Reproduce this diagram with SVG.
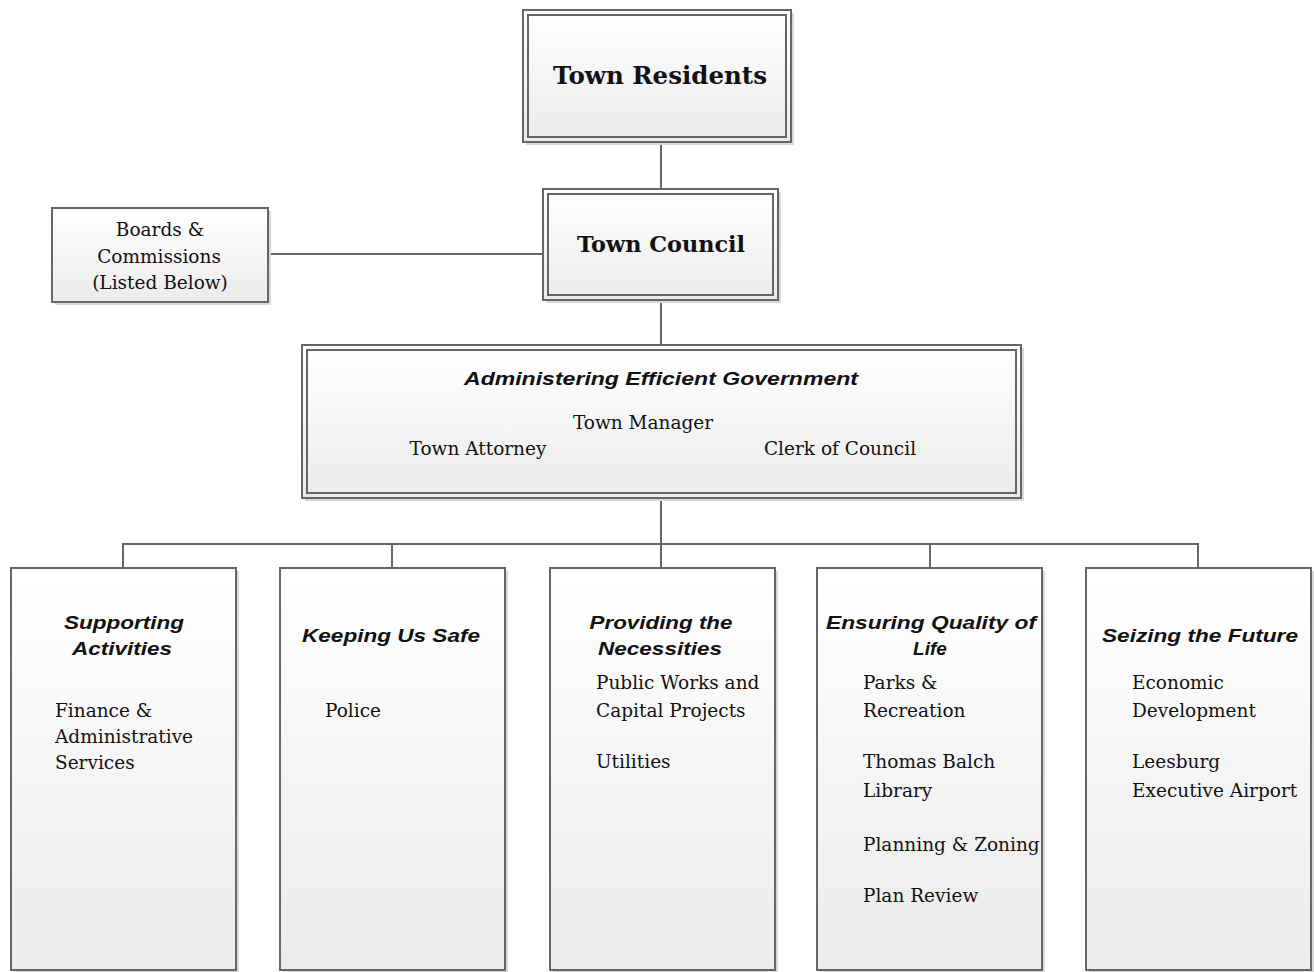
<svg xmlns="http://www.w3.org/2000/svg" width="1314" height="972" viewBox="0 0 1314 972">
  <defs>
    <linearGradient id="g" x1="0" y1="0" x2="0" y2="1">
      <stop offset="0" stop-color="#ffffff"/>
      <stop offset="1" stop-color="#ebebeb"/>
    </linearGradient>
    <style>
      .box { fill: url(#g); stroke: #666; stroke-width: 2; }
      .inner { fill: none; stroke: #666; stroke-width: 2; }
      .shadow { fill: #d8d8d8; }
      .conn { fill: none; stroke: #666; stroke-width: 2; }
      .hb { font-family: "DejaVu Serif", "Liberation Serif", serif; font-weight: bold; fill: #111; text-anchor: middle; }
      .t { font-family: "DejaVu Serif", "Liberation Serif", serif; font-size: 18.5px; fill: #111; }
      .tc { text-anchor: middle; }
      .hi { font-family: "Liberation Sans", Arial, sans-serif; font-weight: bold; font-style: italic; font-size: 19px; fill: #111; text-anchor: middle; }
    </style>
  </defs>
  <rect width="1314" height="972" fill="#ffffff"/>

  <g id="connectors">
    <line class="conn" x1="661" y1="142" x2="661" y2="189"/>
    <line class="conn" x1="268" y1="254" x2="543" y2="254"/>
    <line class="conn" x1="661" y1="300" x2="661" y2="345"/>
    <line class="conn" x1="661" y1="498" x2="661" y2="544"/>
    <line class="conn" x1="123" y1="544" x2="1198" y2="544"/>
    <line class="conn" x1="123" y1="543" x2="123" y2="568"/>
    <line class="conn" x1="392" y1="544" x2="392" y2="568"/>
    <line class="conn" x1="661" y1="544" x2="661" y2="568"/>
    <line class="conn" x1="930" y1="544" x2="930" y2="568"/>
    <line class="conn" x1="1198" y1="543" x2="1198" y2="568"/>
  </g>

  <g id="town-residents">
    <rect class="shadow" x="526" y="13" width="268" height="132"/>
    <rect class="box" x="523" y="10" width="268" height="132"/>
    <rect class="inner" x="528" y="15" width="258" height="122"/>
    <text class="hb" x="660" y="84" font-size="24" textLength="214" lengthAdjust="spacingAndGlyphs">Town Residents</text>
  </g>

  <g id="town-council">
    <rect class="shadow" x="546" y="192" width="235" height="111"/>
    <rect class="box" x="543" y="189" width="235" height="111"/>
    <rect class="inner" x="548" y="194" width="225" height="101"/>
    <text class="hb" x="661" y="252" font-size="22" textLength="168" lengthAdjust="spacingAndGlyphs">Town Council</text>
  </g>

  <g id="boards">
    <rect class="shadow" x="55" y="211" width="216" height="94"/>
    <rect class="box" x="52" y="208" width="216" height="94"/>
    <text class="t tc" x="160" y="236">Boards &amp;</text>
    <text class="t tc" x="159" y="263">Commissions</text>
    <text class="t tc" x="160" y="289">(Listed Below)</text>
  </g>

  <g id="admin">
    <rect class="shadow" x="305" y="348" width="719" height="153"/>
    <rect class="box" x="302" y="345" width="719" height="153"/>
    <rect class="inner" x="307" y="350" width="709" height="143"/>
    <text class="hi" x="661" y="385" font-size="20" textLength="394" lengthAdjust="spacingAndGlyphs">Administering Efficient Government</text>
    <text class="t tc" x="643" y="429">Town Manager</text>
    <text class="t tc" x="478" y="455">Town Attorney</text>
    <text class="t tc" x="840" y="455">Clerk of Council</text>
  </g>

  <g id="supporting">
    <rect class="shadow" x="14" y="571" width="225" height="402"/>
    <rect class="box" x="11" y="568" width="225" height="402"/>
    <text class="hi" x="124" y="629" textLength="120" lengthAdjust="spacingAndGlyphs">Supporting</text>
    <text class="hi" x="122" y="655" textLength="100" lengthAdjust="spacingAndGlyphs">Activities</text>
    <text class="t" x="55" y="717">Finance &amp;</text>
    <text class="t" x="55" y="743">Administrative</text>
    <text class="t" x="55" y="769">Services</text>
  </g>

  <g id="safe">
    <rect class="shadow" x="283" y="571" width="225" height="402"/>
    <rect class="box" x="280" y="568" width="225" height="402"/>
    <text class="hi" x="391" y="642" textLength="178" lengthAdjust="spacingAndGlyphs">Keeping Us Safe</text>
    <text class="t" x="325" y="717">Police</text>
  </g>

  <g id="necessities">
    <rect class="shadow" x="553" y="571" width="225" height="402"/>
    <rect class="box" x="550" y="568" width="225" height="402"/>
    <text class="hi" x="661" y="629" textLength="143" lengthAdjust="spacingAndGlyphs">Providing the</text>
    <text class="hi" x="660" y="655" textLength="124" lengthAdjust="spacingAndGlyphs">Necessities</text>
    <text class="t" x="596" y="689">Public Works and</text>
    <text class="t" x="596" y="717">Capital Projects</text>
    <text class="t" x="596" y="768">Utilities</text>
  </g>

  <g id="quality">
    <rect class="shadow" x="820" y="571" width="225" height="402"/>
    <rect class="box" x="817" y="568" width="225" height="402"/>
    <text class="hi" x="931" y="629" textLength="210" lengthAdjust="spacingAndGlyphs">Ensuring Quality of</text>
    <text class="hi" x="930" y="655">Life</text>
    <text class="t" x="863" y="689">Parks &amp;</text>
    <text class="t" x="863" y="717">Recreation</text>
    <text class="t" x="863" y="768">Thomas Balch</text>
    <text class="t" x="863" y="797">Library</text>
    <text class="t" x="863" y="851">Planning &amp; Zoning</text>
    <text class="t" x="863" y="902">Plan Review</text>
  </g>

  <g id="future">
    <rect class="shadow" x="1089" y="571" width="225" height="402"/>
    <rect class="box" x="1086" y="568" width="225" height="402"/>
    <text class="hi" x="1200" y="642" textLength="196" lengthAdjust="spacingAndGlyphs">Seizing the Future</text>
    <text class="t" x="1132" y="689">Economic</text>
    <text class="t" x="1132" y="717">Development</text>
    <text class="t" x="1132" y="768">Leesburg</text>
    <text class="t" x="1132" y="797">Executive Airport</text>
  </g>
</svg>
